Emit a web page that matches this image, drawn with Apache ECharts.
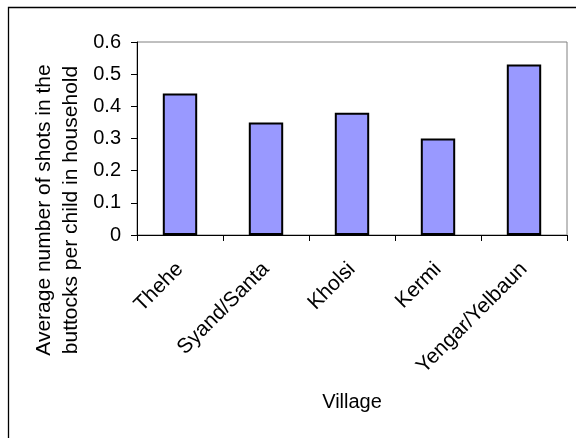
<!DOCTYPE html>
<html>
<head>
<meta charset="utf-8">
<script src="https://cdn.jsdelivr.net/npm/echarts@6/dist/echarts.min.js"></script>
<style>
html,body{margin:0;padding:0;background:#fff;}
#chart{width:576px;height:438px;}
</style>
</head>
<body>
<div id="chart"></div>
<script>
const categories = ['Thehe', 'Syand/Santa', 'Kholsi', 'Kermi', 'Yengar/Yelbaun'];
const values = [0.44, 0.35, 0.38, 0.30, 0.53];
const yTickLabels = ['0', '0.1', '0.2', '0.3', '0.4', '0.5', '0.6'];
const xTitle = 'Village';
const yTitle = 'Average number of shots in the\nbuttocks per child in household';

const FONT = 'Liberation Sans, Arial, sans-serif';
const chart = echarts.init(document.getElementById('chart'), null, {renderer: 'canvas'});
chart.setOption({
  animation: false,
  backgroundColor: '#fff',
  grid: {
    left: 137, right: 9, top: 42, bottom: 203,
    show: true, borderColor: '#808080', borderWidth: 1,
    containLabel: false, outerBoundsMode: 'none'
  },
  xAxis: {
    type: 'category',
    data: categories,
    boundaryGap: true,
    name: xTitle,
    nameLocation: 'middle',
    nameGap: 157,
    nameTextStyle: {color: '#000', fontFamily: FONT, fontSize: 20},
    axisLine: {lineStyle: {color: '#000', width: 1}},
    axisTick: {show: true, inside: false, length: 6, lineStyle: {color: '#000'}},
    axisLabel: {
      rotate: 45, margin: 31, interval: 0,
      color: '#000', fontFamily: FONT, fontSize: 21
    },
    splitLine: {show: false}
  },
  yAxis: {
    type: 'value',
    min: 0, max: 0.6, interval: 0.1,
    axisLine: {show: true, lineStyle: {color: '#000', width: 1}},
    axisTick: {show: true, inside: false, length: 6, lineStyle: {color: '#000'}},
    axisLabel: {
      margin: 16, color: '#000', fontFamily: FONT, fontSize: 20,
      formatter: function (v) { return yTickLabels[Math.round(v * 10)]; }
    },
    splitLine: {show: false}
  },
  graphic: [
    {
      type: 'rect', silent: true, z: 100,
      shape: {x: 8.5, y: 7.5, width: 800, height: 800},
      style: {fill: 'none', stroke: '#000', lineWidth: 1.3}
    },
    {
      type: 'text', silent: true,
      x: 58, y: 210, rotation: Math.PI / 2,
      style: {
        text: yTitle, fill: '#000', font: '21px ' + FONT,
        align: 'center', verticalAlign: 'middle', lineHeight: 27
      }
    }
  ],
  series: [{
    type: 'bar',
    data: values,
    barWidth: '40%',
    itemStyle: {color: '#9999FF', borderColor: '#000', borderWidth: 2},
    emphasis: {disabled: true}
  }]
});
</script>
</body>
</html>
